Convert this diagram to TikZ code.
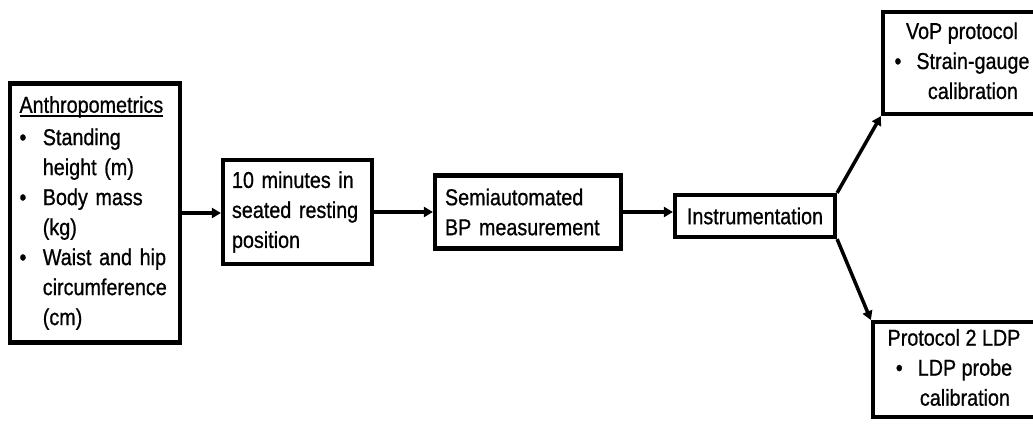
\documentclass[tikz,border=0pt]{standalone}
\usepackage{fontspec}
\setmainfont[FakeStretch=0.86,FakeBold=0.8]{Liberation Sans}
\usetikzlibrary{arrows.meta}

\newcommand{\itm}{\makebox[0.7cm][l]{\textbullet}}
\newcommand{\ind}{\hspace*{0.7cm}}
\newcommand{\uln}[1]{\setbox0\hbox{#1}\rlap{\rule[-3.5pt]{\wd0}{2pt}}\box0}

\begin{document}
\begin{tikzpicture}[
  box/.style={draw, line width=3.6pt, inner sep=0pt,
    font=\fontsize{19.6}{25.6}\selectfont},
  flow/.style={line width=3pt, -{Triangle[length=0.27cm,width=0.3cm]}}
]
\clip (0,0) rectangle (30.99,12.69);

\node[box, minimum width=5.1cm, minimum height=7.77cm, text width=4.53cm, align=left]
  (anthro) at (2.85,6.3) {\uln{Anthropometrics}\\[2pt]
  \itm Standing\\ \ind height (m)\\
  \itm Body mass\\ \ind (kg)\\
  \itm Waist and hip\\ \ind circumference\\ \ind (cm)};

\node[box, minimum width=4.47cm, minimum height=3.12cm, text width=3.93cm, align=left]
  (rest) at (8.925,6.33) {10 minutes in\\ seated resting\\ position};

\node[box, minimum width=5.58cm, minimum height=2.19cm, text width=4.98cm, align=left]
  (bp) at (15.84,6.33) {Semiautomated\\ BP measurement};

\node[box, minimum width=4.8cm, minimum height=1.26cm] (instr) at (22.65,6.21) {Instrumentation};

% these two run past the right edge
\node[box, minimum width=5.7cm, minimum height=3.06cm]
  (vop) at (29.34,10.8) {\begin{tabular}{@{}c@{\hspace{0.96cm}}}VoP protocol\\
  \textbullet\hspace{0.45cm}\begin{tabular}[t]{@{}c@{}}Strain-gauge\\ calibration\end{tabular}
  \end{tabular}};

\node[box, minimum width=6cm, minimum height=2.85cm]
  (ldp) at (29.19,1.6) {\begin{tabular}{@{}c@{\hspace{1.14cm}}}Protocol 2 LDP\\
  \textbullet\hspace{0.45cm}\begin{tabular}[t]{@{}c@{}}LDP probe\\ calibration\end{tabular}
  \end{tabular}};

\draw[flow] (anthro.east) -- (anthro.east -| rest.west);
\draw[flow] (rest.east) -- (rest.east -| bp.west);
\draw[flow] (bp.east) -- (bp.east -| instr.west);
\draw[flow] (instr.north east) -- (vop.south west);
\draw[flow] (instr.south east) -- (ldp.north west);
\end{tikzpicture}
\end{document}
